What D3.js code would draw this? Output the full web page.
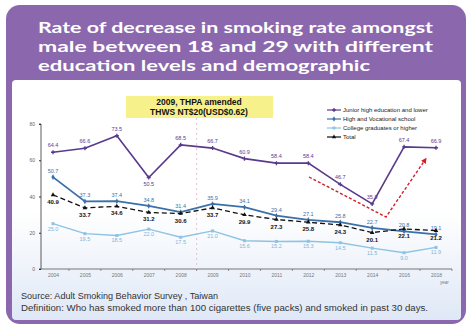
<!DOCTYPE html>
<html>
<head>
<meta charset="utf-8">
<script src="https://cdn.jsdelivr.net/npm/d3@7"></script>
<style>
  body { margin: 0; background: #fff; }
  svg { display: block; }
</style>
</head>
<body>
<div id="chart-container"></div>
<script>
var W = 467, H = 327;

// data
var years = ["2004", "2005", "2006", "2007", "2008", "2009", "2010", "2011", "2012", "2013", "2014", "2016", "2018"];
var junior = [64.4, 66.6, 73.5, 50.5, 68.5, 66.7, 60.9, 58.4, 58.4, 46.7, 35.9, 67.4, 66.9];
var highVoc = [50.7, 37.3, 37.4, 34.8, 31.4, 35.9, 34.1, 29.4, 27.1, 25.8, 22.7, 20.8, 19.1];
var college = [25.0, 19.5, 18.5, 22.0, 17.5, 21.0, 15.6, 15.2, 15.3, 14.5, 11.5, 9.0, 11.9];
var total = [40.9, 33.7, 34.6, 31.2, 30.6, 33.7, 29.9, 27.3, 25.8, 24.3, 20.1, 22.1, 21.2];
var yTicks = [0, 20, 40, 60, 80];
var seriesNames = ["Junior high education and lower", "High and Vocational school", "College graduates or higher", "Total"];
var titleLines = ["Rate of decrease in smoking rate amongst", "male between 18 and 29 with different", "education levels and demographic"];
var noteLines = ["2009, THPA amended", "THWS NT$20(USD$0.62)"];
var sourceLines = ["Source: Adult Smoking Behavior Survey , Taiwan",
  "Definition: Who has smoked more than 100 cigarettes (five packs) and smoked in past 30 days."];

var svg = d3.select("#chart-container")
    .append("svg")
    .attr("width", W)
    .attr("height", H);

var defs = svg.append("defs");
var grad = defs.append("linearGradient").attr("id", "bg").attr("x1", 0).attr("y1", 0).attr("x2", 0).attr("y2", 1);
grad.append("stop").attr("offset", "0%").attr("stop-color", "#ffffff");
grad.append("stop").attr("offset", "55%").attr("stop-color", "#ffffff");
grad.append("stop").attr("offset", "100%").attr("stop-color", "#dfe8f6");

defs.append("marker")
    .attr("id", "arrow")
    .attr("viewBox", "0 0 10 10")
    .attr("refX", 5).attr("refY", 5)
    .attr("markerWidth", 4).attr("markerHeight", 4)
    .attr("orient", "auto")
    .append("path")
    .attr("d", "M0,0 L10,5 L0,10 z")
    .attr("fill", "#d0202a");

// frame
svg.append("rect")
    .attr("x", 6).attr("y", 5)
    .attr("width", 460).attr("height", 319)
    .attr("rx", 14)
    .attr("fill", "#8b68ae");
svg.append("rect")
    .attr("x", 12).attr("y", 80)
    .attr("width", 449).attr("height", 240)
    .attr("rx", 4)
    .attr("fill", "url(#bg)");

// title
svg.selectAll("text.title")
    .data(titleLines)
    .enter().append("text")
    .attr("class", "title")
    .attr("x", 38)
    .attr("y", function (d, i) { return 33 + i * 19; })
    .attr("textLength", function (d, i) { return i < 2 ? 395 : 332; })
    .attr("lengthAdjust", "spacingAndGlyphs")
    .style("font-family", "Lato, 'Noto Sans', sans-serif")
    .style("font-weight", "bold")
    .style("font-size", "16px")
    .attr("fill", "#ffffff")
    .text(function (d) { return d; });

var x = d3.scalePoint()
    .domain(years)
    .range([53, 436]);

var y = d3.scaleLinear()
    .domain([0, 80])
    .range([269, 124]);

var step = x.step();

// axes
var yAxis = d3.axisLeft(y).tickValues(yTicks).tickSize(2).tickPadding(4);
var gy = svg.append("g")
    .attr("class", "y-axis")
    .attr("transform", "translate(41,0)")
    .call(yAxis);
gy.select(".domain").attr("stroke", "#333").attr("stroke-width", 0.8).attr("d", "M-2,124H0V269H-2");
gy.selectAll(".tick line").attr("stroke", "#333");
gy.selectAll("text").style("font-size", "5px").style("font-family", "Liberation Sans, Arial, sans-serif").attr("fill", "#666");

var xAxis = d3.axisBottom(x).tickSize(0).tickPadding(4);
var gx = svg.append("g")
    .attr("class", "x-axis")
    .attr("transform", "translate(0,269)")
    .call(xAxis);
gx.select(".domain").attr("stroke", "#555").attr("stroke-width", 0.8).attr("d", "M41,0H452");
gx.selectAll("text").style("font-size", "5px").style("font-family", "Liberation Sans, Arial, sans-serif").attr("fill", "#777");
gx.selectAll("line.sep")
    .data(years)
    .enter().append("line")
    .attr("class", "sep")
    .attr("x1", function (d) { return x(d) + step / 2; })
    .attr("x2", function (d) { return x(d) + step / 2; })
    .attr("y1", 0).attr("y2", 2)
    .attr("stroke", "#555").attr("stroke-width", 0.6);
svg.append("text")
    .attr("x", 440).attr("y", 284)
    .style("font-size", "4.5px")
    .style("font-family", "Liberation Sans, Arial, sans-serif")
    .attr("fill", "#777")
    .text("year");

// 2009 divider
var xDiv = (x("2008") + x("2009")) / 2;
svg.append("line")
    .attr("x1", xDiv).attr("x2", xDiv)
    .attr("y1", 118).attr("y2", 269)
    .attr("stroke", "#d9b8c0")
    .attr("stroke-width", 0.8)
    .attr("stroke-dasharray", "2,3");

// note box
svg.append("rect")
    .attr("x", 126).attr("y", 96)
    .attr("width", 147).attr("height", 22)
    .attr("fill", "#f7f18c");
svg.selectAll("text.note")
    .data(noteLines)
    .enter().append("text")
    .attr("class", "note")
    .attr("x", 199)
    .attr("y", function (d, i) { return 105 + i * 9.5; })
    .attr("text-anchor", "middle")
    .style("font-family", "Liberation Sans, Arial, sans-serif")
    .style("font-weight", "bold")
    .style("font-size", "8.5px")
    .attr("fill", "#111")
    .text(function (d) { return d; });

// series
var series = [
    { name: seriesNames[0], values: junior, color: "#5a3a8c", width: 1.6, dash: null, sym: d3.symbolCross, lab: -5, labColor: "#5a3a8c", labSize: 5.5, bold: false },
    { name: seriesNames[1], values: highVoc, color: "#3b70a8", width: 1.8, dash: null, sym: d3.symbolDiamond, lab: -4, labColor: "#3b70a8", labSize: 5.5, bold: false },
    { name: seriesNames[2], values: college, color: "#8dc3e3", width: 1.4, dash: null, sym: d3.symbolSquare, lab: 7, labColor: "#7fb5d8", labSize: 5.5, bold: false },
    { name: seriesNames[3], values: total, color: "#111111", width: 1.3, dash: "5,3", sym: d3.symbolTriangle, lab: 9, labColor: "#111", labSize: 6, bold: true }
];

var line = d3.line()
    .x(function (d, i) { return x(years[i]); })
    .y(function (d) { return y(d); });

series.forEach(function (s, k) {
    svg.append("path")
        .datum(s.values)
        .attr("fill", "none")
        .attr("stroke", s.color)
        .attr("stroke-width", s.width)
        .attr("stroke-dasharray", s.dash)
        .attr("d", line);
    svg.selectAll(null)
        .data(s.values)
        .enter().append("path")
        .attr("transform", function (d, i) { return "translate(" + x(years[i]) + "," + y(d) + ")"; })
        .attr("d", d3.symbol().type(s.sym).size(9))
        .attr("fill", s.color);
    svg.selectAll(null)
        .data(s.values)
        .enter().append("text")
        .attr("x", function (d, i) { return x(years[i]); })
        .attr("y", function (d, i) {
            // the deep dip of the junior line has its label under the point
            var dip = k === 0 && i === 3;
            return y(d) + (dip ? 9 : s.lab);
        })
        .attr("text-anchor", "middle")
        .style("font-family", "Liberation Sans, Arial, sans-serif")
        .style("font-size", s.labSize + "px")
        .style("font-weight", s.bold ? "bold" : "normal")
        .attr("fill", s.labColor)
        .text(function (d) { return d.toFixed(1); });
});

// legend
var legend = svg.append("g").attr("transform", "translate(327,110)");
series.forEach(function (s, i) {
    var g = legend.append("g").attr("transform", "translate(0," + i * 9 + ")");
    g.append("line")
        .attr("x1", 0).attr("x2", 14)
        .attr("stroke", s.color)
        .attr("stroke-width", 1.2);
    g.append("path")
        .attr("transform", "translate(7,0)")
        .attr("d", d3.symbol().type(s.sym).size(8))
        .attr("fill", s.color);
    g.append("text")
        .attr("x", 16).attr("y", 2)
        .style("font-family", "Liberation Sans, Arial, sans-serif")
        .style("font-size", "6px")
        .attr("fill", "#222")
        .text(s.name);
});

// red trend arrows
svg.append("path")
    .attr("d", d3.line()([[309, 177], [386, 217], [425, 160]]))
    .attr("fill", "none")
    .attr("stroke", "#d0202a")
    .attr("stroke-width", 1.4)
    .attr("stroke-dasharray", "3,2")
    .attr("marker-end", "url(#arrow)");

// footer
svg.selectAll("text.src")
    .data(sourceLines)
    .enter().append("text")
    .attr("class", "src")
    .attr("x", 21)
    .attr("y", function (d, i) { return 299 + i * 12; })
    .attr("textLength", function (d, i) { return i === 0 ? 197 : 407; })
    .attr("lengthAdjust", "spacingAndGlyphs")
    .style("font-family", "Liberation Sans, Arial, sans-serif")
    .style("font-size", "8.5px")
    .attr("fill", "#333")
    .text(function (d) { return d; });
</script>
</body>
</html>
